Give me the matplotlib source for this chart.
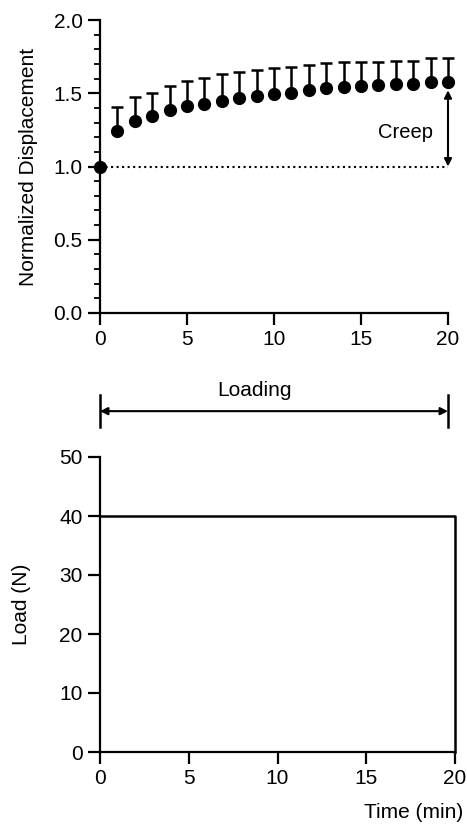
import numpy as np
import matplotlib.pyplot as plt
from matplotlib.ticker import MultipleLocator

plt.rcParams['font.family'] = ['Liberation Sans', 'DejaVu Sans']

# creep test data
time_min = np.arange(0, 21)
norm_disp = [1.00, 1.24, 1.31, 1.345, 1.385, 1.41, 1.43, 1.45, 1.465, 1.48, 1.495,
             1.505, 1.52, 1.535, 1.545, 1.55, 1.555, 1.56, 1.565, 1.575, 1.58]
disp_err = [0.0, 0.165, 0.165, 0.155, 0.165, 0.175, 0.175, 0.18, 0.18, 0.18, 0.175,
            0.175, 0.17, 0.17, 0.165, 0.165, 0.16, 0.16, 0.155, 0.165, 0.16]

load_time = [0, 20, 20]
load_value = [40, 40, 0]

fig = plt.figure(figsize=(4.67, 8.25), dpi=100)

# ---- top panel: normalized displacement ----
ax1 = fig.add_axes([100 / 467, 1 - 313 / 825, 348 / 467, 293 / 825])
ax1.errorbar(time_min, norm_disp, yerr=[np.zeros(len(disp_err)), disp_err],
             fmt='o', color='black', ms=8.5, elinewidth=1.8, capsize=4.5, capthick=1.8,
             clip_on=False, zorder=3)
ax1.plot([0, 20], [1.0, 1.0], color='black', ls=':', lw=1.5, zorder=1)
ax1.annotate('', xy=(20, 1.52), xytext=(20, 1.0),
             arrowprops=dict(arrowstyle='<|-|>', color='black', lw=1.5,
                             mutation_scale=11, shrinkA=0, shrinkB=0))
ax1.text(19.15, 1.235, 'Creep', ha='right', va='center', fontsize=14.5)
ax1.set_xlim(0, 20)
ax1.set_ylim(0, 2.0)
ax1.set_xticks([0, 5, 10, 15, 20])
ax1.set_yticks([0, 0.5, 1.0, 1.5, 2.0])
ax1.set_yticklabels(['0.0', '0.5', '1.0', '1.5', '2.0'])
ax1.yaxis.set_minor_locator(MultipleLocator(0.1))
ax1.set_ylabel('Normalized Displacement', fontsize=15, labelpad=11)

# loading span arrow below the top panel
ax1.annotate('', xy=(20, -0.67), xytext=(0, -0.67), annotation_clip=False,
             arrowprops=dict(arrowstyle='<|-|>', color='black', lw=1.5,
                             mutation_scale=11, shrinkA=0, shrinkB=0))
for xe in (0, 20):
    ax1.plot([xe, xe], [-0.56, -0.78], color='black', lw=1.8, clip_on=False)
ax1.text(8.9, -0.53, 'Loading', ha='center', va='center', fontsize=15)

# ---- bottom panel: applied load ----
ax2 = fig.add_axes([100 / 467, 1 - 752 / 825, 355 / 467, 295 / 825])
ax2.plot(load_time, load_value, color='black', lw=1.8, clip_on=False)
ax2.set_xlim(0, 20)
ax2.set_ylim(0, 50)
ax2.set_xticks([0, 5, 10, 15, 20])
ax2.set_yticks([0, 10, 20, 30, 40, 50])
ax2.set_ylabel('Load (N)', fontsize=15, labelpad=20)
fig.text(463 / 467, 1 - 813 / 825, 'Time (min)', ha='right', va='center', fontsize=15)

for ax in (ax1, ax2):
    for side in ('top', 'right'):
        ax.spines[side].set_visible(False)
    for side in ('left', 'bottom'):
        ax.spines[side].set_linewidth(1.6)
    ax.tick_params(which='major', length=8.5, width=1.6, labelsize=15, pad=4,
                   color='black')
    ax.tick_params(which='minor', length=4.5, width=1.3)

fig.savefig('out.png', dpi=100)
